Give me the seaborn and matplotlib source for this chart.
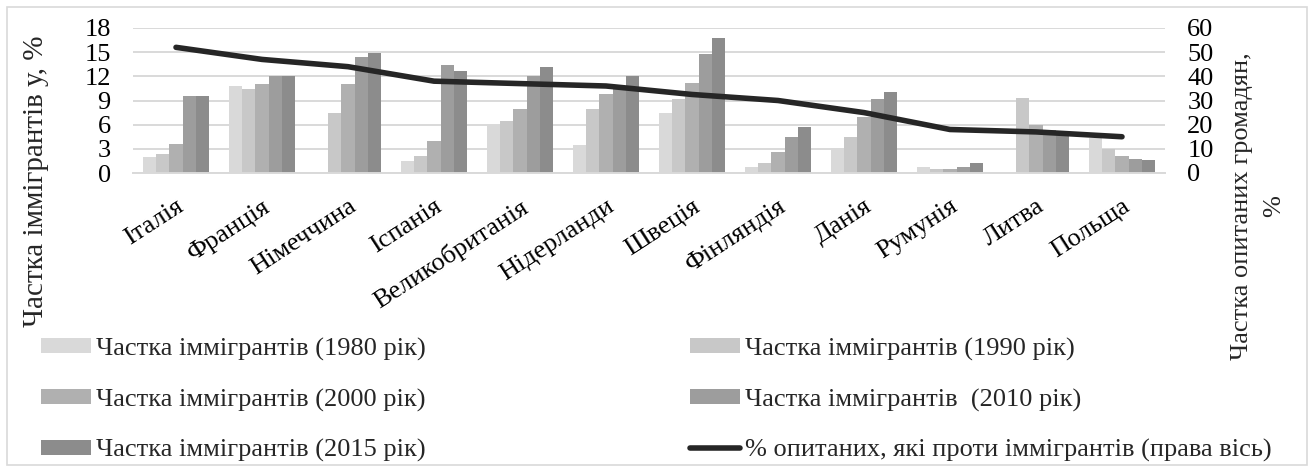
import numpy as np
import pandas as pd
import matplotlib
matplotlib.use("Agg")
import matplotlib.pyplot as plt
from matplotlib.patches import Patch, Rectangle
from matplotlib.lines import Line2D
import seaborn as sns

# Data
countries = ["Італія", "Франція", "Німеччина", "Іспанія", "Великобританія", "Нідерланди",
             "Швеція", "Фінляндія", "Данія", "Румунія", "Литва", "Польща"]
share_1980 = [2.0, 10.8, np.nan, 1.5, 6.0, 3.5, 7.4, 0.8, 3.1, 0.8, np.nan, 4.4]
share_1990 = [2.4, 10.4, 7.4, 2.1, 6.4, 7.9, 9.2, 1.2, 4.5, 0.5, 9.3, 3.0]
share_2000 = [3.6, 11.0, 11.0, 4.0, 8.0, 9.8, 11.2, 2.6, 7.0, 0.5, 6.0, 2.1]
share_2010 = [9.6, 12.1, 14.4, 13.4, 12.1, 10.7, 14.8, 4.5, 9.2, 0.8, 5.3, 1.7]
share_2015 = [9.6, 12.1, 14.9, 12.7, 13.2, 12.1, 16.7, 5.7, 10.1, 1.2, 5.0, 1.6]
against = [52, 47, 44, 38, 37, 36, 32.5, 30, 25, 18, 17, 15]

series_labels = ["Частка іммігрантів (1980 рік)", "Частка іммігрантів (1990 рік)",
                 "Частка іммігрантів (2000 рік)", "Частка іммігрантів  (2010 рік)",
                 "Частка іммігрантів (2015 рік)"]
line_label = "% опитаних, які проти іммігрантів (права вісь)"
bar_colors = ["#d9d9d9", "#c8c8c8", "#b0b0b0", "#9d9d9d", "#8c8c8c"]
line_color = "#262626"

sns.set_theme(style="white")
plt.rcParams['font.family'] = ['Liberation Serif', 'DejaVu Serif']
FS = 19

W, H = 1315, 468
fig = plt.figure(figsize=(W / 100, H / 100), dpi=100)
ax = fig.add_axes([133 / W, 1 - 173 / H, (1165 - 133) / W, (173 - 28) / H])

# long-form table for seaborn
rows = []
for lab, vals in zip(series_labels, [share_1980, share_1990, share_2000, share_2010, share_2015]):
    for c, v in zip(countries, vals):
        rows.append({"country": c, "series": lab, "value": v})
df = pd.DataFrame(rows)

sns.barplot(data=df, x="country", y="value", hue="series", order=countries,
            hue_order=series_labels, palette=bar_colors, saturation=1,
            width=0.77, linewidth=0, legend=False, ax=ax)

ax.set_ylim(0, 18)
ax.set_yticks(range(0, 19, 3))
ax.set_xlim(-0.5, len(countries) - 0.5)
ax.set_xlabel("")
ax.set_ylabel("")
ax.yaxis.grid(True, color="#d9d9d9", lw=1.4)
ax.set_axisbelow(True)
for s in ["top", "left", "right"]:
    ax.spines[s].set_visible(False)
ax.spines["bottom"].set_color("#d9d9d9")
ax.spines["bottom"].set_linewidth(1.4)
ax.set_xticks(range(len(countries)))
ax.set_xticklabels(countries, rotation=33, ha="right", rotation_mode="anchor")
ax.tick_params(axis="x", length=0, pad=16, labelsize=FS, colors="black")
ax.tick_params(axis="y", length=0, pad=16, labelsize=FS, colors="black")

# right axis: line
ax2 = ax.twinx()
sns.lineplot(x=np.arange(len(countries)), y=against, color=line_color, lw=4.0,
             ax=ax2, legend=False)
ax2.set_ylim(0, 60)
ax2.set_yticks(range(0, 61, 10))
ax2.set_xlim(-0.5, len(countries) - 0.5)
ax2.set_ylabel("")
for s in ax2.spines.values():
    s.set_visible(False)
ax2.tick_params(axis="y", length=0, pad=16, labelsize=FS, colors="black")
ax2.grid(False)

# axis titles
fig.text(36 / W, 1 - 181 / H, "Частка іммігрантів у, %", rotation=90,
         ha="center", va="center", fontsize=21)
fig.text(1258 / W, 1 - 206 / H, "Частка опитаних громадян,\n%", rotation=90,
         ha="center", va="center", multialignment="center", fontsize=FS,
         linespacing=1.6)

# legend in two columns
handles = [Patch(facecolor=c, edgecolor="none") for c in bar_colors]
line_handle = Line2D([0], [0], color=line_color, lw=4.0)
col1 = [handles[0], handles[2], handles[4]]
col1_lab = [series_labels[0], series_labels[2], series_labels[4]]
col2 = [handles[1], handles[3], line_handle]
col2_lab = [series_labels[1], series_labels[3], line_label]
kw = dict(loc="center left", frameon=False, fontsize=FS, borderpad=0, borderaxespad=0,
          handlelength=1.9, handleheight=0.5, handletextpad=0.2, labelspacing=1.05)
fig.legend(col1, col1_lab, bbox_to_anchor=(41 / W, 1 - 400 / H), **kw)
fig.legend(col2, col2_lab, bbox_to_anchor=(690 / W, 1 - 400 / H), **kw)

# outer border
fig.patches.append(Rectangle((7 / W, 3 / H), (1307 - 7) / W, (461 - 3) / H,
                             transform=fig.transFigure, fill=False,
                             edgecolor="#d9d9d9", lw=1.2))

fig.savefig("out.png", dpi=100)
